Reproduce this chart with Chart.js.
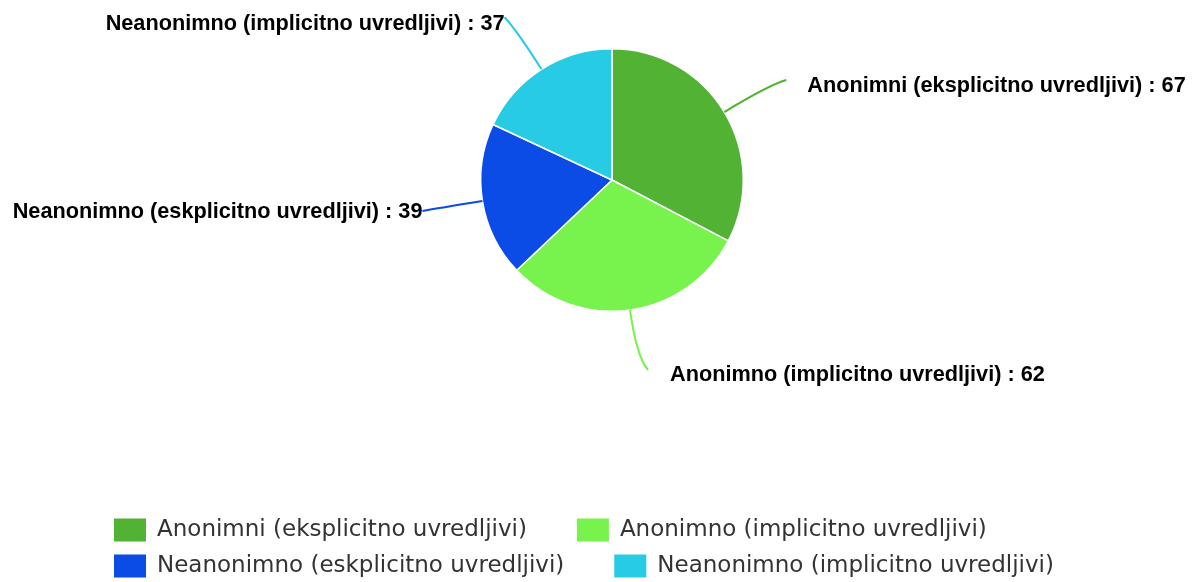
<!DOCTYPE html>
<html>
<head>
<meta charset="utf-8">
<script src="https://cdn.jsdelivr.net/npm/chart.js@4.4.1/dist/chart.umd.min.js"></script>
<style>
  html, body { margin: 0; padding: 0; background: #ffffff; }
  #wrap { width: 1194px; height: 582px; position: relative; }
</style>
</head>
<body>
<div id="wrap"><canvas id="c" width="1194" height="582"></canvas></div>
<script>
// ---- data ----
const categories = [
  "Anonimni (eksplicitno uvredljivi)",
  "Anonimno (implicitno uvredljivi)",
  "Neanonimno (eskplicitno uvredljivi)",
  "Neanonimno (implicitno uvredljivi)"
];
const values = [67, 62, 39, 37];
const colors = ["#52b234", "#78f24c", "#0b4be6", "#27cbe3"];

// ---- label layout (offsets of leader-line end from slice edge point) ----
const labelOffsets = [[62, -32], [18, 60], [-60, 10], [-37, -52]];
const labelAlign = ["left", "left", "right", "right"];
const labelGap = [21, 22, 0, 0];
const labelDy = [6, 5, 1, 7];

const calloutPlugin = {
  id: 'callouts',
  afterDatasetsDraw(chart) {
    const ctx = chart.ctx;
    const meta = chart.getDatasetMeta(0);
    ctx.save();
    meta.data.forEach((arc, i) => {
      const mid = (arc.startAngle + arc.endAngle) / 2;
      const r = arc.outerRadius;
      const cx = arc.x, cy = arc.y;
      const ux = Math.cos(mid), uy = Math.sin(mid);
      const sx = cx + ux * r, sy = cy + uy * r;
      const ex = sx + labelOffsets[i][0], ey = sy + labelOffsets[i][1];
      const len = Math.hypot(labelOffsets[i][0], labelOffsets[i][1]);
      const k = len * 0.75;
      const qx = sx + ux * k, qy = sy + uy * k;
      ctx.beginPath();
      ctx.moveTo(sx, sy);
      ctx.quadraticCurveTo(qx, qy, ex, ey);
      ctx.strokeStyle = colors[i];
      ctx.lineWidth = 2;
      ctx.stroke();
      ctx.font = "bold 21.7px 'Liberation Sans', Arial, sans-serif";
      ctx.fillStyle = "#000000";
      ctx.textBaseline = "middle";
      ctx.textAlign = labelAlign[i];
      const tx = labelAlign[i] === "left" ? ex + labelGap[i] : ex - labelGap[i];
      ctx.fillText(categories[i] + " : " + values[i], tx, ey + labelDy[i]);
    });
    ctx.restore();
  }
};

const legendPlugin = {
  id: 'flowLegend',
  afterDraw(chart) {
    const ctx = chart.ctx;
    ctx.save();
    ctx.font = "23px 'DejaVu Sans', sans-serif";
    ctx.textBaseline = "middle";
    ctx.textAlign = "left";
    const rows = [[0, 1], [2, 3]];
    const rowY = [530, 566];
    rows.forEach((row, ri) => {
      let x = 114;
      row.forEach(i => {
        ctx.fillStyle = colors[i];
        ctx.fillRect(x, rowY[ri] - 11.5, 32, 23);
        ctx.fillStyle = "#333333";
        ctx.fillText(categories[i], x + 43, rowY[ri]);
        x += 43 + ctx.measureText(categories[i]).width + 50;
      });
    });
    ctx.restore();
  }
};

new Chart(document.getElementById('c'), {
  type: 'pie',
  data: {
    labels: categories,
    datasets: [{
      data: values,
      backgroundColor: colors,
      borderColor: "#ffffff",
      borderWidth: 1.5,
      hoverOffset: 0
    }]
  },
  options: {
    responsive: false,
    animation: false,
    layout: { padding: { top: 48, bottom: 270, left: 30, right: 0 } },
    plugins: {
      legend: { display: false },
      tooltip: { enabled: false }
    }
  },
  plugins: [calloutPlugin, legendPlugin]
});
</script>
</body>
</html>
